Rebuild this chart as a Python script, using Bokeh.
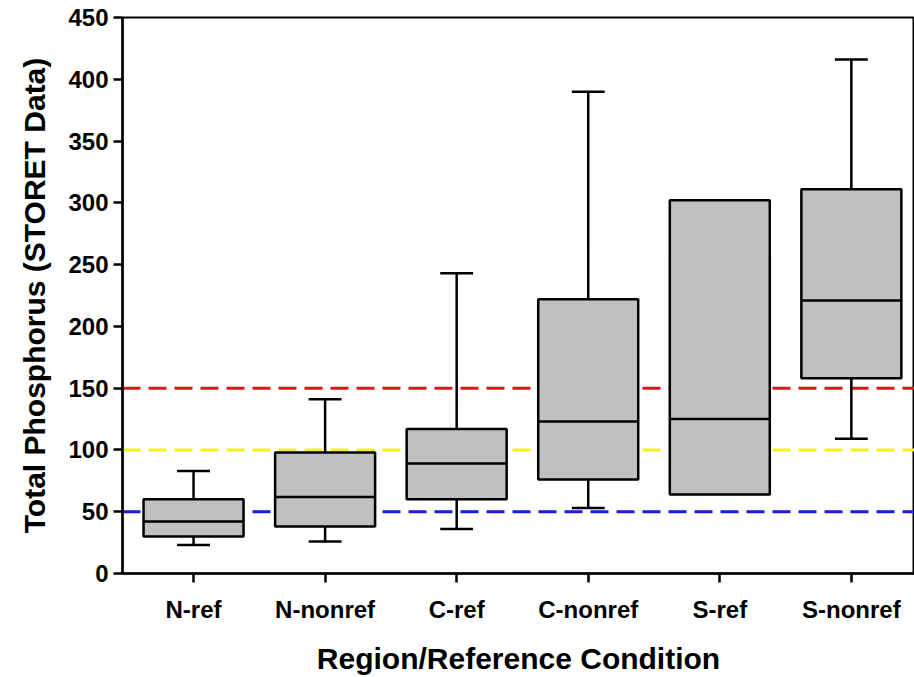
from bokeh.plotting import figure
from bokeh.models import FixedTicker, Span, ColumnDataSource
from bokeh.embed import file_html
from bokeh.resources import INLINE

categories = ["N-ref", "N-nonref", "C-ref", "C-nonref", "S-ref", "S-nonref"]
whisker_low = [23, 26, 36, 53, None, 109]
q1 = [30, 38, 60, 76, 64, 158]
median = [42, 62, 89, 123, 125, 221]
q3 = [60, 98, 117, 222, 302, 311]
whisker_high = [83, 141, 243, 390, None, 416]
ref_levels = [150, 100, 50]
ref_colors = ["#e8141c", "#f2f21a", "#1a1ae0"]
y_ticks = [0, 50, 100, 150, 200, 250, 300, 350, 400, 450]

xpos = list(range(1, len(categories) + 1))
box_w = 0.76
cap_w = 0.25

p = figure(width=914, height=677, output_backend="svg", toolbar_location=None,
           x_range=(0.46, 6.48), y_range=(0, 450),
           min_border_left=122, min_border_right=0, min_border_top=17, min_border_bottom=104)
p.background_fill_color = "white"
p.border_fill_color = "white"
p.outline_line_color = "black"
p.outline_line_width = 2
p.xgrid.visible = False
p.ygrid.visible = False

# reference lines
for lvl, col in zip(ref_levels, ref_colors):
    p.add_layout(Span(location=lvl, dimension="width", line_color=col,
                      line_width=3, line_dash="18 8", level="underlay"))

# whiskers
wx, wlo, whi, wq1, wq3 = [], [], [], [], []
for i, x in enumerate(xpos):
    if whisker_low[i] is not None:
        wx.append(x); wlo.append(whisker_low[i]); whi.append(whisker_high[i])
        wq1.append(q1[i]); wq3.append(q3[i])
ws = ColumnDataSource(dict(x=wx, lo=wlo, hi=whi, q1=wq1, q3=wq3,
                           cl=[x - cap_w / 2 for x in wx], cr=[x + cap_w / 2 for x in wx]))
p.segment(x0="x", y0="q3", x1="x", y1="hi", source=ws, line_color="black", line_width=2.5)
p.segment(x0="x", y0="q1", x1="x", y1="lo", source=ws, line_color="black", line_width=2.5)
p.segment(x0="cl", y0="hi", x1="cr", y1="hi", source=ws, line_color="black", line_width=2.5)
p.segment(x0="cl", y0="lo", x1="cr", y1="lo", source=ws, line_color="black", line_width=2.5)

bs = ColumnDataSource(dict(x=xpos, q1=q1, q3=q3, med=median,
                           l=[x - box_w / 2 for x in xpos], r=[x + box_w / 2 for x in xpos]))
p.vbar(x="x", width=box_w, bottom="q1", top="q3", source=bs,
       fill_color="#c0c0c0", line_color="black", line_width=2.5)
p.segment(x0="l", y0="med", x1="r", y1="med", source=bs, line_color="black", line_width=2.5)

font = "Liberation Sans"
# y axis
p.yaxis.ticker = FixedTicker(ticks=y_ticks)
p.yaxis.minor_tick_line_color = None
p.yaxis.major_tick_out = 9
p.yaxis.major_tick_in = 0
p.yaxis.axis_line_width = 2.5
p.yaxis.major_tick_line_width = 2.5
p.yaxis.major_label_text_font = font
p.yaxis.major_label_text_font_style = "bold"
p.yaxis.major_label_text_font_size = "24px"
p.yaxis.major_label_text_color = "black"
p.yaxis.major_label_standoff = 5
p.yaxis.axis_label = "Total Phosphorus (STORET Data)"
p.yaxis.axis_label_text_font = font
p.yaxis.axis_label_text_font_style = "bold"
p.yaxis.axis_label_text_font_size = "30px"
p.yaxis.axis_label_text_color = "black"
p.yaxis.axis_label_standoff = 14

# x axis
p.xaxis.ticker = FixedTicker(ticks=xpos)
p.xaxis.major_label_overrides = {x: c for x, c in zip(xpos, categories)}
p.xaxis.minor_tick_line_color = None
p.xaxis.major_tick_out = 9
p.xaxis.major_tick_in = 0
p.xaxis.axis_line_width = 2.5
p.xaxis.major_tick_line_width = 2.5
p.xaxis.major_label_text_font = font
p.xaxis.major_label_text_font_style = "bold"
p.xaxis.major_label_text_font_size = "24px"
p.xaxis.major_label_text_color = "black"
p.xaxis.major_label_standoff = 13
p.xaxis.axis_label = "Region/Reference Condition"
p.xaxis.axis_label_text_font = font
p.xaxis.axis_label_text_font_style = "bold"
p.xaxis.axis_label_text_font_size = "30px"
p.xaxis.axis_label_text_color = "black"
p.xaxis.axis_label_standoff = 16

open("out.html", "w").write(file_html(p, INLINE))
